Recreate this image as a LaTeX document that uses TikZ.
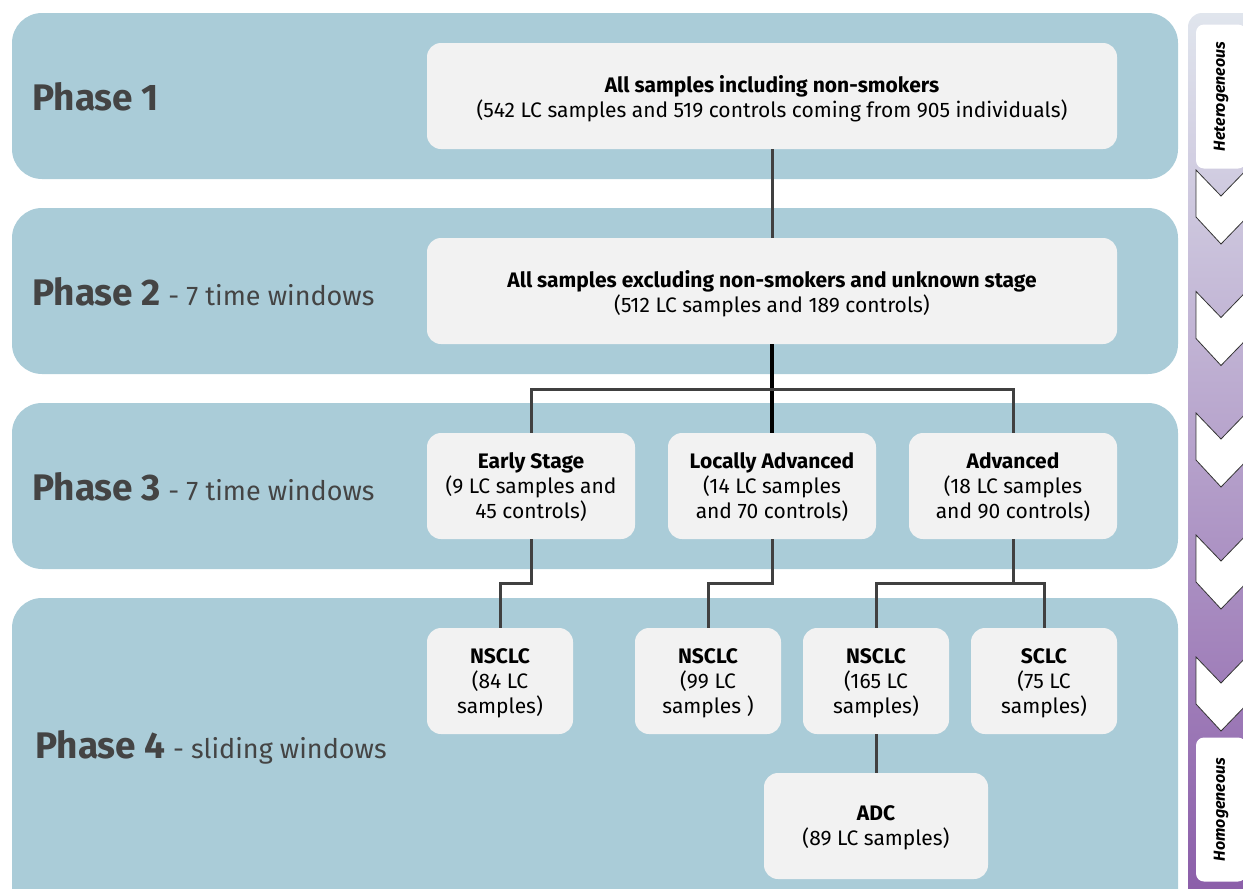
\documentclass[tikz,border=0pt]{standalone}
\usepackage{fontspec}
\setmainfont{Fira Sans}
\definecolor{band}{HTML}{AACCD8}
\definecolor{boxc}{HTML}{F2F2F2}
\definecolor{lbl}{HTML}{444444}
\definecolor{conncol}{HTML}{404040}
\definecolor{bartop}{HTML}{E0E5ED}
\definecolor{barmid}{HTML}{B4AACF}
\definecolor{barbot}{HTML}{8A5CA8}
\begin{document}
\begin{tikzpicture}[x=1pt,y=-1pt,
  bandbox/.style={fill=band, rounded corners=30pt},
  infobox/.style={fill=boxc, rounded corners=14pt, inner sep=0pt, align=center,
    text depth=0pt, font=\fontsize{21}{25}\selectfont},
  conn/.style={draw=conncol, line width=3pt},
  phaselbl/.style={anchor=west, text=lbl, inner sep=0pt},
  endbox/.style={fill=white, rounded corners=8pt, inner sep=0pt, rotate=90,
    minimum width=144pt, minimum height=50pt, font=\fontsize{16}{16}\selectfont\bfseries\itshape},
  chev/.style={fill=white, draw=black!80, line width=0.8pt, line join=miter}
]
\useasboundingbox (0,0) rectangle (1243,889);
\clip (0,0) rectangle (1243,889);

% phase bands
\fill[bandbox] (12,13) rectangle (1178,179);
\fill[bandbox] (12,208) rectangle (1178,374);
\fill[bandbox] (12,403) rectangle (1178,569);
\fill[bandbox] (12,598) rectangle (1178,930);

% phase labels
\node[phaselbl] (p1) at (32,97) {\fontsize{37}{37}\selectfont\bfseries Phase 1};
\node[phaselbl] (p2) at (32,292) {\fontsize{37}{37}\selectfont\bfseries Phase 2\fontsize{27}{27}\selectfont\mdseries{} - 7 time windows};
\node[phaselbl] (p3) at (32,487) {\fontsize{37}{37}\selectfont\bfseries Phase 3\fontsize{27}{27}\selectfont\mdseries{} - 7 time windows};
\node[phaselbl] (p4) at (35,747) {\fontsize{37}{37}\selectfont\bfseries Phase 4\fontsize{27}{27}\selectfont\mdseries{} - sliding windows};

% boxes
\node[infobox, minimum width=690pt, minimum height=106pt] (b1) at (772,96)
  {\textbf{All samples including non-smokers}\\(542 LC samples and 519 controls coming from 905 individuals)};
\node[infobox, minimum width=690pt, minimum height=106pt] (b2) at (772,291)
  {\textbf{All samples excluding non-smokers and unknown stage}\\(512 LC samples and 189 controls)};
\node[infobox, minimum width=208pt, minimum height=106pt] (early) at (531,486)
  {\textbf{Early Stage}\\(9 LC samples and\\45 controls)};
\node[infobox, minimum width=208pt, minimum height=106pt] (loc) at (772,486)
  {\textbf{Locally Advanced}\\(14 LC samples\\and 70 controls)};
\node[infobox, minimum width=208pt, minimum height=106pt] (adv) at (1013,486)
  {\textbf{Advanced}\\(18 LC samples\\and 90 controls)};
\node[infobox, minimum width=146pt, minimum height=106pt] (n1) at (500,681)
  {\textbf{NSCLC}\\(84 LC\\samples)};
\node[infobox, minimum width=146pt, minimum height=106pt] (n2) at (708,681)
  {\textbf{NSCLC}\\(99 LC\\samples )};
\node[infobox, minimum width=146pt, minimum height=106pt] (n3) at (876,681)
  {\textbf{NSCLC}\\(165 LC\\samples)};
\node[infobox, minimum width=146pt, minimum height=106pt] (sc) at (1044,681)
  {\textbf{SCLC}\\(75 LC\\samples)};
\node[infobox, minimum width=224pt, minimum height=106pt] (adc) at (876,826)
  {\textbf{ADC}\\(89 LC samples)};

% connectors
\coordinate (r2) at (0,389);
\coordinate (r3) at (0,583);
\draw[conn] (b1.south) -- (b2.north);
\draw[draw=black, line width=3.5pt] (b2.south) -- (loc.north);
\draw[conn] (early.north) |- (b2.south |- r2) -| (adv.north);
\draw[conn] (early.south) -- (early.south |- r3) -| (n1.north);
\draw[conn] (loc.south) -- (loc.south |- r3) -| (n2.north);
\draw[conn] (adv.south) -- (adv.south |- r3);
\draw[conn] (n3.north) |- (adv.south |- r3) -| (sc.north);
\draw[conn] (n3.south) -- (adc.north);

% right gradient bar
\shade[top color=bartop, middle color=barmid, bottom color=barbot, rounded corners=14pt]
  (1188,13) rectangle (1275,905);
\foreach \t in {170,291.5,413,535,657} {
  \draw[chev] (1196,\t) -- (1221,\t+26) -- (1252,\t-6) -- (1252,\t+42) -- (1221,\t+74) -- (1196,\t+47) -- cycle;
}
\node[endbox] (het) at (1221,96.5) {Heterogeneous};
\node[endbox] (hom) at (1221,809.5) {Homogeneous};
\end{tikzpicture}
\end{document}
